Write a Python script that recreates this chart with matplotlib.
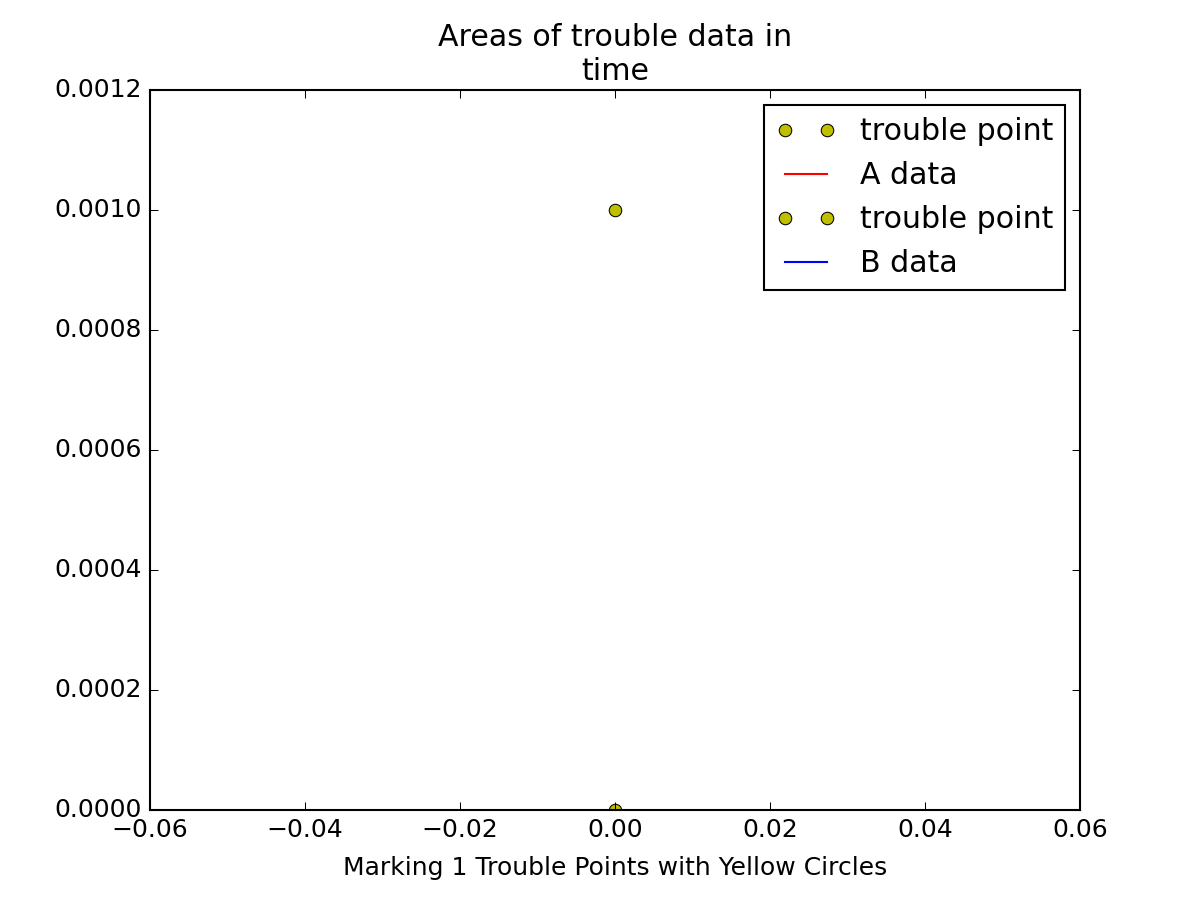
import matplotlib
matplotlib.use("Agg")
import matplotlib.pyplot as plt

plt.style.use("classic")

# trouble points (x = time, y = value)
trouble_a_x = [0.0]
trouble_a_y = [0.001]
trouble_b_x = [0.0]
trouble_b_y = [0.0]

# data series (single samples)
a_x = [0.0]
a_y = [0.001]
b_x = [0.0]
b_y = [0.0]

n_trouble = 1

fig = plt.figure(figsize=(8, 6))
ax = fig.add_subplot(111)

ax.plot(trouble_a_x, trouble_a_y, "yo", label="trouble point")
ax.plot(a_x, a_y, "r-", label="A data")
ax.plot(trouble_b_x, trouble_b_y, "yo", label="trouble point")
ax.plot(b_x, b_y, "b-", label="B data")

ax.set_xlim(-0.06, 0.06)
ax.set_ylim(0, 0.0012)
ax.set_title("Areas of trouble data in\ntime")
ax.set_xlabel("Marking %d Trouble Points with Yellow Circles" % n_trouble, labelpad=6.5)
ax.legend(loc="upper right", borderpad=0.4)

fig.savefig("out.png", dpi=150)
